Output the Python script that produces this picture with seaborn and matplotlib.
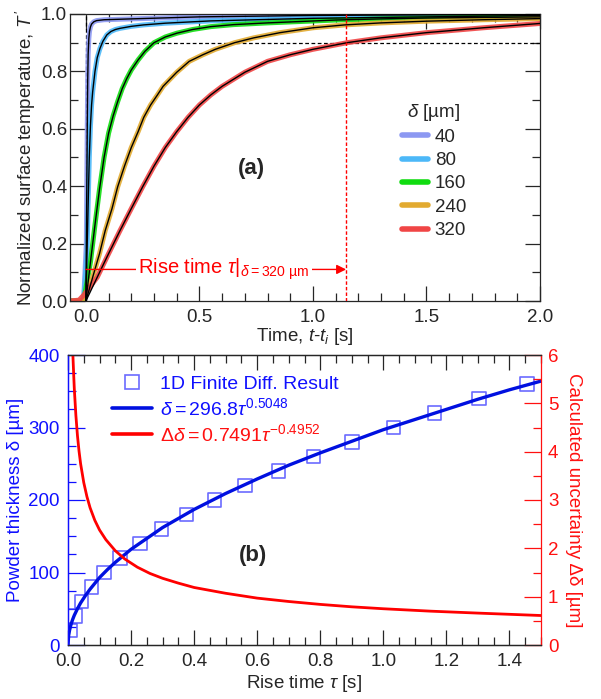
import numpy as np
import pandas as pd
import matplotlib
matplotlib.use("Agg")
import matplotlib.pyplot as plt
from matplotlib.lines import Line2D
from matplotlib.ticker import MultipleLocator, FormatStrFormatter
import seaborn as sns

sns.set_style("ticks")
plt.rcParams['font.family'] = ['Liberation Sans', 'DejaVu Sans']
plt.rcParams['mathtext.fontset'] = 'custom'
plt.rcParams['mathtext.rm'] = 'Liberation Sans'
plt.rcParams['mathtext.it'] = 'Liberation Sans:italic'
plt.rcParams['mathtext.bf'] = 'Liberation Sans:bold'
plt.rcParams['axes.linewidth'] = 0.9

# ---------------- data: panel (a) ----------------
thickness_labels = ["40", "80", "160", "240", "320"]
curve_colors = ["#8c98f2", "#4cb8f8", "#10dc10", "#e2aa30", "#f04545"]

t_40 = [0, 0.002, 0.004, 0.006, 0.008, 0.01, 0.013, 0.016, 0.02, 0.025, 0.035,
        0.047, 0.08, 0.2, 0.5, 1.0, 1.5, 2.0]
T_40 = [0, 0.20, 0.40, 0.60, 0.77, 0.86, 0.915, 0.94, 0.955, 0.965, 0.973,
        0.977, 0.98, 0.983, 0.99, 0.995, 0.997, 0.998]

t_80 = [0, 0.005, 0.01, 0.015, 0.02, 0.025, 0.03, 0.04, 0.05, 0.062, 0.075,
        0.092, 0.11, 0.13, 0.15, 0.2, 0.254, 0.35, 0.55, 0.8, 1.0, 1.5, 2.0]
T_80 = [0, 0.17, 0.34, 0.50, 0.61, 0.683, 0.73, 0.80, 0.848, 0.88, 0.905,
        0.927, 0.939, 0.946, 0.95, 0.957, 0.962, 0.968, 0.976, 0.981, 0.985, 0.99, 0.995]

t_160 = [0, 0.02, 0.04, 0.06, 0.08, 0.10, 0.12, 0.14, 0.16, 0.18, 0.20, 0.23,
         0.26, 0.30, 0.35, 0.40, 0.47, 0.55, 0.65, 0.80, 0.95, 1.10, 1.30, 1.50, 1.75, 2.0]
T_160 = [0, 0.135, 0.265, 0.39, 0.50, 0.585, 0.645, 0.695, 0.74, 0.775, 0.805, 0.84,
         0.87, 0.90, 0.92, 0.933, 0.946, 0.956, 0.963, 0.969, 0.974, 0.979, 0.983, 0.986, 0.988, 0.99]

t_240 = [0, 0.03, 0.06, 0.085, 0.115, 0.14, 0.17, 0.20, 0.23, 0.255, 0.285, 0.315,
         0.34, 0.40, 0.455, 0.515, 0.57, 0.655, 0.74, 0.855, 1.0, 1.14, 1.30, 1.50, 1.75, 2.0]
T_240 = [0, 0.083, 0.165, 0.245, 0.322, 0.398, 0.47, 0.535, 0.59, 0.64, 0.683, 0.718,
         0.748, 0.797, 0.835, 0.858, 0.877, 0.90, 0.917, 0.935, 0.952, 0.962, 0.969, 0.975, 0.98, 0.984]

t_320 = [0, 0.05, 0.10, 0.15, 0.20, 0.25, 0.30, 0.35, 0.40, 0.45, 0.50, 0.55, 0.60,
         0.70, 0.80, 0.90, 1.00, 1.15, 1.30, 1.50, 1.75, 2.0]
T_320 = [0, 0.083, 0.165, 0.245, 0.322, 0.398, 0.47, 0.535, 0.59, 0.64, 0.683, 0.718, 0.748,
         0.797, 0.835, 0.858, 0.877, 0.90, 0.917, 0.935, 0.952, 0.967]

# measured curves start slightly before t = 0
t_foot = [-0.07, -0.03, -0.01]
T_foot_320 = [0.0, 0.003, 0.02]
T_foot_other = [0.0, 0.0, 0.0]

rise_time_320 = 1.146
arrow_level = 0.11
threshold = 0.9

# ---------------- data: panel (b) ----------------
fd_tau = [0.006, 0.022, 0.043, 0.075, 0.114, 0.165, 0.228, 0.297, 0.376, 0.464,
          0.561, 0.667, 0.778, 0.90, 1.032, 1.162, 1.304, 1.455]
fd_delta = [20, 40, 60, 80, 100, 120, 140, 160, 180, 200,
            220, 240, 260, 280, 300, 320, 340, 360]

fit_tau = [0, 0.002, 0.005, 0.01, 0.015, 0.02, 0.03, 0.04, 0.055, 0.07, 0.085, 0.1,
           0.125, 0.15, 0.2, 0.25, 0.3, 0.4, 0.5, 0.6, 0.7, 0.8, 0.9, 1.0, 1.1, 1.2,
           1.3, 1.4, 1.5]
fit_delta = [0, 13, 20.5, 29, 35.5, 41, 50, 58, 68, 77, 85, 93,
             104, 114, 132, 147, 162, 187, 209, 229, 248, 265, 281, 297, 311, 325,
             339, 352, 364]

unc_tau = [0.0155, 0.018, 0.02, 0.025, 0.03, 0.035, 0.04, 0.05, 0.06, 0.07, 0.085,
           0.1, 0.12, 0.15, 0.18, 0.22, 0.26, 0.3, 0.35, 0.4, 0.5, 0.6, 0.7, 0.8,
           0.9, 1.0, 1.15, 1.3, 1.5]
unc_val = [6.0, 5.6, 5.3, 4.75, 4.33, 4.01, 3.75, 3.36, 3.07, 2.84, 2.58,
           2.38, 2.18, 1.95, 1.78, 1.61, 1.48, 1.38, 1.28, 1.19, 1.07, 0.97, 0.90, 0.84,
           0.79, 0.75, 0.70, 0.66, 0.61]

# ---------------- figure ----------------
fig = plt.figure(figsize=(6.01, 6.99), dpi=100)
W, H = 601, 699
ax1 = fig.add_axes([70 / W, 1 - 301 / H, 470 / W, 287 / H])
ax2 = fig.add_axes([68 / W, 1 - 645 / H, 473 / W, 290 / H])
ax2r = ax2.twinx()

FS = 13.5

# ---- panel (a)
ts = [t_40, t_80, t_160, t_240, t_320]
Ts = [T_40, T_80, T_160, T_240, T_320]
feet = [T_foot_other, T_foot_other, T_foot_other, T_foot_other, T_foot_320]

ax1.axvline(0, color="black", lw=0.9, ls=(0, (3, 2)), zorder=1)
ax1.plot([0, 2.0], [threshold, threshold], color="black", lw=0.9, ls=(0, (3, 2)), zorder=1)

handles = []
for t, T, foot, col, lab in zip(ts, Ts, feet, curve_colors, thickness_labels):
    meas = pd.DataFrame({"t": t_foot + t[1:], "T": foot + T[1:]})
    sns.lineplot(data=meas, x="t", y="T", color=col, lw=3.6, alpha=0.9,
                 estimator=None, sort=False, ax=ax1, zorder=2)
    fit = pd.DataFrame({"t": t, "T": T})
    sns.lineplot(data=fit, x="t", y="T", color="black", lw=1.0,
                 estimator=None, sort=False, ax=ax1, zorder=3)
    handles.append(Line2D([], [], color=col, lw=4, label=lab))

ax1.plot([rise_time_320, rise_time_320], [0, 1.0], color="red", lw=1.0,
         ls=(0, (2.5, 1.5)), zorder=4)
ax1.annotate("", xy=(rise_time_320, arrow_level), xytext=(0, arrow_level),
             arrowprops=dict(arrowstyle="-|>", color="red", lw=1.0,
                             mutation_scale=14, shrinkA=0, shrinkB=0), zorder=4)
ax1.text(0.23, arrow_level, r"Rise time $\tau|_{\delta\mathrm{=320\ µm}}$",
         color="red", fontsize=14.5, ha="left", va="center", zorder=5,
         bbox=dict(facecolor="white", edgecolor="none", pad=1.5))
ax1.text(0.73, 0.463, "(a)", fontsize=16, fontweight="bold", ha="center", va="center")

ax1.set_xlim(-0.07, 2.0)
ax1.set_ylim(0, 1.0)
ax1.xaxis.set_major_locator(MultipleLocator(0.5))
ax1.xaxis.set_minor_locator(MultipleLocator(0.1))
ax1.yaxis.set_major_locator(MultipleLocator(0.2))
ax1.yaxis.set_minor_locator(MultipleLocator(0.1))
ax1.xaxis.set_major_formatter(FormatStrFormatter("%.1f"))
ax1.yaxis.set_major_formatter(FormatStrFormatter("%.1f"))
ax1.tick_params(which="both", direction="in", top=True, right=True, labelsize=FS)
ax1.tick_params(which="major", length=11, width=0.9)
ax1.tick_params(which="minor", length=6, width=0.9)
ax1.tick_params(axis="x", pad=6)
ax1.tick_params(axis="y", pad=2)
ax1.set_xlabel(r"Time, $t$-$t_i$ [s]", fontsize=FS, labelpad=0)
ax1.set_ylabel(r"Normalized surface temperature, $T\,'$", fontsize=FS, labelpad=2)

leg1 = ax1.legend(handles=handles, title=r"$\delta$ [µm]", loc="upper left",
                  bbox_to_anchor=(0.706, 0.695), frameon=False, fontsize=FS,
                  title_fontsize=FS, handlelength=1.4, handletextpad=0.35,
                  labelspacing=0.33, borderpad=0, borderaxespad=0)

# ---- panel (b)
fd = pd.DataFrame({"tau": fd_tau, "delta": fd_delta})
sns.scatterplot(data=fd, x="tau", y="delta", marker="s", s=95, facecolor="none",
                edgecolor="#3a3aff", linewidth=1.2, alpha=0.75, ax=ax2, zorder=3)
fitdf = pd.DataFrame({"tau": fit_tau, "delta": fit_delta})
sns.lineplot(data=fitdf, x="tau", y="delta", color="#0010e0", lw=2.4,
             estimator=None, sort=False, ax=ax2, zorder=4)
uncdf = pd.DataFrame({"tau": unc_tau, "unc": unc_val})
sns.lineplot(data=uncdf, x="tau", y="unc", color="#ff0000", lw=2.0,
             estimator=None, sort=False, ax=ax2r, zorder=2)

ax2.set_xlim(0, 1.5)
ax2.set_ylim(0, 400)
ax2r.set_ylim(0, 6)
ax2.xaxis.set_major_locator(MultipleLocator(0.2))
ax2.xaxis.set_minor_locator(MultipleLocator(0.05))
ax2.yaxis.set_major_locator(MultipleLocator(100))
ax2.yaxis.set_minor_locator(MultipleLocator(25))
ax2r.yaxis.set_major_locator(MultipleLocator(1))
ax2r.yaxis.set_minor_locator(MultipleLocator(0.5))
ax2.xaxis.set_major_formatter(FormatStrFormatter("%.1f"))

blue = "#1010ff"
red = "#ff1010"
ax2.tick_params(axis="x", which="both", direction="in", top=True, labelsize=FS, pad=6)
ax2.tick_params(axis="x", which="major", length=11, width=0.9)
ax2.tick_params(axis="x", which="minor", length=6, width=0.9)
ax2.tick_params(axis="y", which="both", direction="in", colors=blue, labelsize=FS, pad=6)
ax2.tick_params(axis="y", which="major", length=12, width=0.9)
ax2.tick_params(axis="y", which="minor", length=6, width=0.9)
ax2r.tick_params(axis="y", which="both", direction="in", colors=red, labelsize=FS, pad=5)
ax2r.tick_params(axis="y", which="major", length=12, width=0.9)
ax2r.tick_params(axis="y", which="minor", length=6, width=0.9)
ax2.spines["left"].set_color(blue)
ax2r.spines["left"].set_color(blue)
ax2r.spines["right"].set_color(red)
ax2.spines["right"].set_visible(False)

ax2.set_xlabel(r"Rise time $\tau$ [s]", fontsize=FS, labelpad=2)
ax2.set_ylabel("Powder thickness δ [µm]", fontsize=FS, color=blue, labelpad=3)
ax2r.set_ylabel("Calculated uncertainty Δδ [µm]", fontsize=FS, color=red,
                rotation=-90, va="bottom", labelpad=5)
ax2.text(0.587, 124, "(b)", fontsize=16, fontweight="bold", ha="center", va="center")

h2 = [Line2D([], [], ls="none", marker="s", markersize=9.5, markerfacecolor="none",
             markeredgecolor="#3a3aff", markeredgewidth=1.2, alpha=0.75),
      Line2D([], [], color="#0010e0", lw=2.6),
      Line2D([], [], color="#ff0000", lw=2.6)]
labs2 = ["1D Finite Diff. Result",
         r"$\delta = 296.8\tau^{0.5048}$",
         r"$\Delta\delta = 0.7491\tau^{-0.4952}$"]
leg2 = ax2r.legend(handles=h2, labels=labs2, loc="upper left",
                   bbox_to_anchor=(0.093, 0.93), frameon=False, fontsize=14,
                   handlelength=2.05, handletextpad=0.4, labelspacing=0.22,
                   borderpad=0, borderaxespad=0)
for txt, c in zip(leg2.get_texts(), [blue, blue, red]):
    txt.set_color(c)

fig.savefig("out.png", dpi=100)
